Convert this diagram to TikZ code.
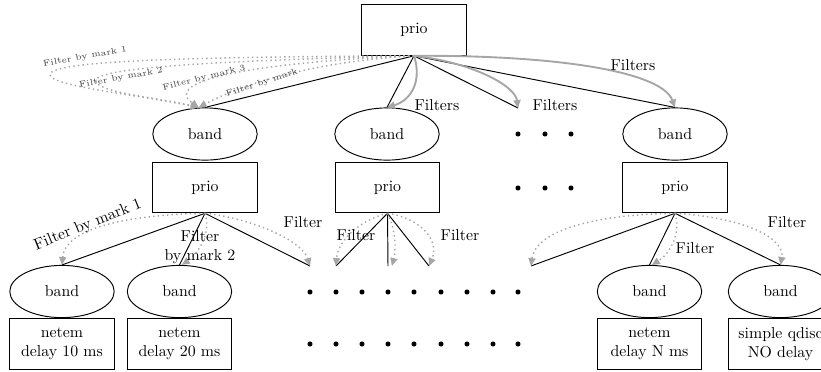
\documentclass[tikz,border=0pt]{standalone}
\usetikzlibrary{arrows.meta,shapes.geometric}
\tikzset{
  qbox/.style={draw,rectangle,minimum width=66pt,minimum height=32pt,inner sep=0pt,line width=0.6pt},
  bandnode/.style={draw,ellipse,minimum width=66pt,minimum height=33pt,inner sep=0pt,line width=0.6pt},
  dotnode/.style={circle,fill,inner sep=0pt,minimum size=3.2pt},
  link/.style={line width=0.6pt},
  filters/.style={draw=black!35,line width=1.2pt,-{Triangle[length=5pt,width=4.5pt]}},
  filter/.style={draw=black!35,line width=0.9pt,dash pattern=on 0.9pt off 2pt,
    -{Triangle[length=5pt,width=4.5pt]}},
  lbl/.style={inner sep=0pt},
  tinylbl/.style={inner sep=0pt,font=\fontsize{5.4}{6}\selectfont,text=black!75},
}

\begin{document}
\begin{tikzpicture}[x=0.632pt,y=-0.632pt]%
  \useasboundingbox (0,0) rectangle (821,371);
  % top level
  \node[qbox] (p0) at (414,30) {prio};
  \node[bandnode] (b1) at (205,134) {band};
  \node[bandnode] (b2) at (387,134) {band};
  \node[bandnode] (b4) at (675,134) {band};
  \node[qbox] (p1) at (205,187.5) {prio};
  \node[qbox] (p2) at (387.5,187.5) {prio};
  \node[qbox] (p4) at (675,187.5) {prio};
  \foreach \x [count=\i] in {518,545,571} {
    \node[dotnode] (u\i) at (\x,134) {};
    \node[dotnode] (v\i) at (\x,188) {};
  }
  % leaves
  \node[bandnode] (c1) at (62,291.5) {band};
  \node[bandnode] (c2) at (179.5,291.5) {band};
  \node[bandnode] (c3) at (649.5,291.5) {band};
  \node[bandnode] (c4) at (780.5,291.5) {band};
  \node[qbox,align=center] (q1) at (62,344) {netem\\delay 10 ms};
  \node[qbox,align=center] (q2) at (179.5,344) {netem\\delay 20 ms};
  \node[qbox,align=center] (q3) at (649.5,344) {netem\\delay N ms};
  \node[qbox,align=center] (q4) at (780.5,344) {simple qdisc\\NO delay};
  \foreach \x [count=\i] in {310,336,362,388,414,441,467,493,518} {
    \node[dotnode] (w\i) at (\x,292) {};
    \node[dotnode] (z\i) at (\x,344) {};
  }
  \coordinate (t1) at (518,108);
  \coordinate (m1) at (310,266);
  \coordinate (m2) at (336,266);
  \coordinate (m3) at (388,266);
  \coordinate (m4) at (429,266);
  \coordinate (m5) at (531,266);

  % plain links
  \foreach \to in {b1.north,b2.north,t1,b4.north}
    \draw[link] (p0.south) -- (\to);
  \foreach \to in {c1.north,c2.north,m1}
    \draw[link] (p1.south) -- (\to);
  \foreach \to in {m2,m3,m4}
    \draw[link] (p2.south) -- (\to);
  \foreach \to in {m5,c3.north,c4.north}
    \draw[link] (p4.south) -- (\to);

  % filters from the root
  \draw[filters] (p0.south) .. controls (422,80) and (412,100) .. (b2.north);
  \draw[filters] (p0.south) .. controls (470,62) and (515,85) .. (t1);
  \draw[filters] (p0.south) .. controls (560,55) and (662,72) .. (b4.north);
  \node[lbl] (f1) at (437,105) {Filters};
  \node[lbl] (f2) at (555,105) {Filters};
  \node[lbl] (f3) at (633,65) {Filters};

  \draw[filter] (p0.south) .. controls (200,57) and (55,60) .. (50,74)
    .. controls (47,86) and (140,95) .. ([xshift=-4pt]b1.north);
  \draw[filter] (p0.south) .. controls (250,60) and (100,66) .. (96,80)
    .. controls (93,92) and (160,98) .. ([xshift=-4pt]b1.north);
  \draw[filter] (p0.south) .. controls (260,62) and (160,80) .. ([xshift=-4pt]b1.north);
  \draw[filter] (p0.south) .. controls (340,60) and (260,75) .. ([xshift=-4pt]b1.north);
  \node[tinylbl,rotate=10] (g1) at (85,57) {Filter by mark 1};
  \node[tinylbl,rotate=10] (g2) at (121,78) {Filter by mark 2};
  \node[tinylbl,rotate=14] (g3) at (204,78) {Filter by mark 3};
  \node[tinylbl,rotate=18] (g4) at (262,83) {Filter by mark};

  % filters below the second level
  \draw[filter] (p1.south) .. controls (120,215) and (65,230) .. (c1.north);
  \draw[filter] (p1.south) .. controls (212,235) and (196,255) .. ([xshift=1.5pt]c2.north);
  \draw[filter] (p1.south) .. controls (250,218) and (302,240) .. (m1);
  \node[lbl,rotate=22] (h1) at (88,225) {Filter by mark 1};
  \node[lbl,align=center] (h2) at (200,247) {Filter\\by mark 2};
  \node[lbl] (h3) at (303,222) {Filter};

  \draw[filter] (p2.south) .. controls (360,220) and (338,240) .. (m2);
  \draw[filter] (p2.south) .. controls (396,230) and (396,250) .. ([xshift=2.5pt]m3);
  \draw[filter] (p2.south) .. controls (420,218) and (440,240) .. (m4);
  \node[lbl] (h4) at (356,235) {Filter};
  \node[lbl] (h5) at (460,235) {Filter};

  \draw[filter] (p4.south) .. controls (580,215) and (535,235) .. (m5);
  \draw[filter] (p4.south) .. controls (682,235) and (668,255) .. ([xshift=1.5pt]c3.north);
  \draw[filter] (p4.south) .. controls (750,218) and (785,240) .. (c4.north);
  \node[lbl] (h6) at (695,248) {Filter};
  \node[lbl] (h7) at (787,222) {Filter};
\end{tikzpicture}
\end{document}
